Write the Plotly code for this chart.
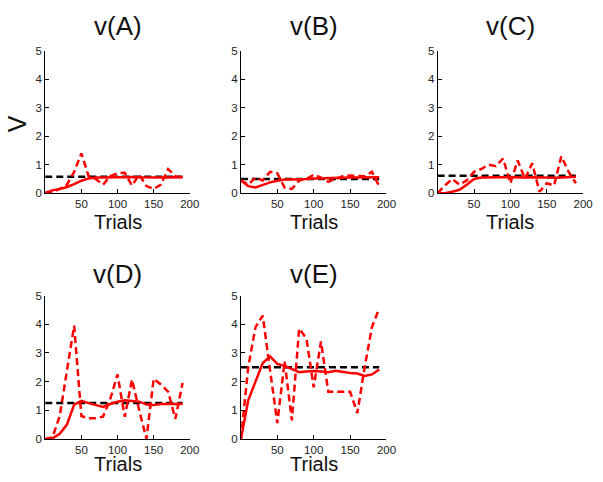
import plotly.graph_objects as go

W, H = 603, 482

panel_titles = ["v(A)", "v(B)", "v(C)", "v(D)", "v(E)"]
trials = [0, 10, 20, 30, 40, 50, 60, 70, 80, 90, 100, 110, 120, 130, 140, 150, 160, 170, 180, 190]

true_values = [0.58, 0.50, 0.61, 1.25, 2.50]

est_A = [0.02, 0.10, 0.15, 0.22, 0.32, 0.44, 0.52, 0.55, 0.55, 0.56, 0.56, 0.57, 0.57, 0.56, 0.55, 0.55, 0.55, 0.55, 0.56, 0.56]
est_B = [0.45, 0.25, 0.20, 0.30, 0.38, 0.44, 0.48, 0.48, 0.48, 0.50, 0.52, 0.53, 0.54, 0.55, 0.55, 0.55, 0.55, 0.56, 0.57, 0.56]
est_C = [0.00, 0.00, 0.05, 0.12, 0.30, 0.50, 0.55, 0.56, 0.56, 0.56, 0.56, 0.55, 0.55, 0.56, 0.55, 0.55, 0.54, 0.55, 0.57, 0.58]
est_D = [0.00, 0.02, 0.18, 0.50, 1.20, 1.33, 1.25, 1.18, 1.12, 1.22, 1.30, 1.35, 1.33, 1.30, 1.20, 1.18, 1.22, 1.22, 1.22, 1.22]
est_E = [0.00, 1.35, 2.00, 2.65, 2.88, 2.62, 2.55, 2.45, 2.33, 2.35, 2.37, 2.35, 2.33, 2.38, 2.33, 2.30, 2.28, 2.20, 2.25, 2.42]

noisy_A = [0.00, 0.05, 0.15, 0.30, 0.75, 1.40, 0.60, 0.50, 0.30, 0.60, 0.70, 0.72, 0.27, 0.65, 0.25, 0.15, 0.30, 0.85, 0.60, 0.55]
noisy_B = [0.45, 0.30, 0.55, 0.45, 0.75, 0.70, 0.20, 0.15, 0.45, 0.50, 0.65, 0.55, 0.40, 0.50, 0.60, 0.62, 0.60, 0.60, 0.75, 0.25]
noisy_C = [0.00, 0.27, 0.50, 0.30, 0.45, 0.75, 0.85, 1.00, 0.95, 1.22, 0.35, 1.15, 0.50, 1.05, 0.05, 0.35, 0.27, 1.30, 0.75, 0.35]
noisy_D = [0.00, 0.05, 0.80, 2.30, 3.95, 0.80, 0.72, 0.72, 0.78, 1.40, 2.25, 0.77, 2.07, 1.00, 0.00, 2.10, 1.90, 1.65, 0.70, 1.95]
noisy_E = [0.00, 2.50, 3.90, 4.30, 2.40, 0.55, 2.70, 0.65, 3.85, 3.50, 1.80, 3.40, 1.65, 1.65, 1.65, 1.65, 0.90, 2.50, 3.90, 4.55]

true_span = [0, 190]
x_ticks = [50, 100, 150, 200]
y_ticks = [0, 1, 2, 3, 4, 5]

estimates = [est_A, est_B, est_C, est_D, est_E]
noisy = [noisy_A, noisy_B, noisy_C, noisy_D, noisy_E]

# panel pixel boxes (left, right, top, bottom)
boxes = [(46, 193, 46, 192), (245, 393, 46, 192), (445, 593, 46, 192),
         (46, 193, 297, 444), (245, 393, 297, 444)]

fig = go.Figure()
layout = dict(width=W, height=H, margin=dict(l=0, r=0, t=0, b=0),
              paper_bgcolor="white", plot_bgcolor="white", showlegend=False,
              font=dict(family="Liberation Sans, Arial, sans-serif", color="#222222"))
annotations = []

for i in range(5):
    n = i + 1
    xa = "x" if n == 1 else f"x{n}"
    ya = "y" if n == 1 else f"y{n}"
    l, r, t, b = boxes[i]
    fig.add_trace(go.Scatter(x=true_span, y=[true_values[i]] * 2, mode="lines",
                             line=dict(color="black", width=2.5, dash="7px,4px"),
                             xaxis=xa, yaxis=ya))
    fig.add_trace(go.Scatter(x=trials, y=noisy[i], mode="lines",
                             line=dict(color="#ff0000", width=2.5, dash="7px,4px"),
                             xaxis=xa, yaxis=ya))
    fig.add_trace(go.Scatter(x=trials, y=estimates[i], mode="lines",
                             line=dict(color="#ff0000", width=2.5),
                             xaxis=xa, yaxis=ya))
    axcommon = dict(showline=True, linecolor="black", linewidth=1, mirror=False,
                    ticks="inside", ticklen=4, tickcolor="black", showgrid=False,
                    zeroline=False, tickfont=dict(size=11.5, color="#222222"))
    layout["xaxis" if n == 1 else f"xaxis{n}"] = dict(
        domain=[l / W, r / W], anchor=ya, range=[0, 200], tickvals=x_ticks, **axcommon)
    layout["yaxis" if n == 1 else f"yaxis{n}"] = dict(
        domain=[1 - b / H, 1 - t / H], anchor=xa, range=[0, 5], tickvals=y_ticks, **axcommon)
    cx = (l + r) / 2 / W
    ty = 21 if i < 3 else 275
    annotations.append(dict(text=panel_titles[i], x=cx, y=1 - ty / H, xref="paper", yref="paper",
                            showarrow=False, xanchor="center", yanchor="middle",
                            font=dict(size=26, color="#111111")))
    if i < 3:
        annotations.append(dict(text="Trials", x=cx, y=1 - 222 / H, xref="paper", yref="paper",
                                showarrow=False, xanchor="center", yanchor="middle",
                                font=dict(size=20, color="#111111")))
    else:
        annotations.append(dict(text="Trials", x=cx, y=0, xref="paper", yref="paper",
                                showarrow=False, xanchor="center", yanchor="bottom",
                                borderpad=0, font=dict(size=20, color="#111111")))

annotations.append(dict(text="V", x=17.5 / W, y=1 - 121 / H, xref="paper", yref="paper",
                        showarrow=False, xanchor="center", yanchor="middle", textangle=-90,
                        font=dict(size=25, color="#111111")))
layout["annotations"] = annotations
fig.update_layout(**layout)
fig.write_html("out.html", config={"displayModeBar": False},
               post_script="document.body.style.margin='0';")
